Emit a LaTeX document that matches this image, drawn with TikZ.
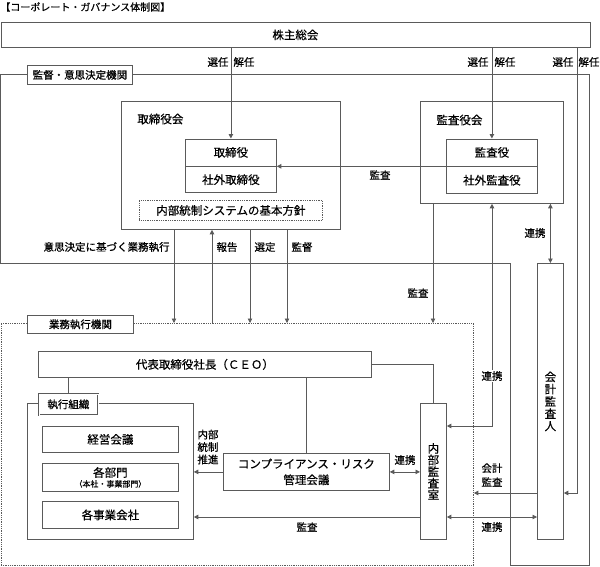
\documentclass[tikz,border=0pt]{standalone}
\usepackage{fontspec}
\setmainfont{Noto Sans CJK JP}[FakeBold=0.6]
\usetikzlibrary{arrows.meta,positioning}
\definecolor{linegray}{HTML}{5A5A5A}

\begin{document}
\begin{tikzpicture}[x=1pt,y=-1pt,>={Triangle[length=4.5pt,width=4.5pt]},line width=.8pt,draw=linegray,
  txt/.style={inner sep=0pt,font=\fontsize{10.5}{12}\selectfont},
  box/.style={draw=linegray,rectangle,inner sep=0pt,align=center,anchor=north west,font=\fontsize{11.5}{13}\selectfont},
  tagbox/.style={box,fill=white,font=\fontsize{10.5}{12}\selectfont},
  frame/.style={draw=linegray}]
  \useasboundingbox (0,0) rectangle (600,566);

  \node[txt,anchor=west,font=\fontsize{10}{12}\selectfont] (title) at (0,7) {【コーポレート・ガバナンス体制図】};
  \node[box,minimum width=589pt,minimum height=25pt] (kabunushi) at (0.5,22) {株主総会};

  % supervision / decision making
  \draw[frame] (0.5,74) -- (589.5,74) -- (589.5,565) -- (510,565) -- (510,263) -- (0.5,263) -- cycle;
  \node[tagbox,minimum width=105pt,minimum height=19pt] (kantokutag) at (27,65) {監督・意思決定機関};

  \node[box,minimum width=219pt,minimum height=128pt] (board) at (121,101) {};
  \node[box,draw=none,anchor=west] (boardlbl) at (137,119) {取締役会};
  \node[box,minimum width=91pt,minimum height=27pt] (director) at (185,138.5) {取締役};
  \node[box,minimum width=91pt,minimum height=26pt,below=0pt of director] (outdirector) {社外取締役};
  \node[box,densely dotted,minimum width=183pt,minimum height=20pt] (policy) at (139,200) {内部統制システムの基本方針};

  \node[box,minimum width=143pt,minimum height=102pt] (auditboard) at (420,101) {};
  \node[box,draw=none,anchor=west] (auditboardlbl) at (436,120) {監査役会};
  \node[box,minimum width=91pt,minimum height=27pt] (auditor) at (446,138.5) {監査役};
  \node[box,minimum width=91pt,minimum height=27pt,below=0pt of auditor] (outauditor) {社外監査役};

  \node[box,minimum width=26pt,minimum height=276pt,font=\fontsize{11.5}{12.3}\selectfont] (accountant) at (537,263) {会\\計\\監\\査\\人};

  % execution
  \node[box,densely dotted,minimum width=472.5pt,minimum height=242pt] (exec) at (0.5,323) {};
  \node[tagbox,minimum width=106pt,minimum height=18pt] (exectag) at (27,315) {業務執行機関};

  \node[box,minimum width=333pt,minimum height=26pt] (ceo) at (38,351) {代表取締役社長（ＣＥＯ）};
  \node[box,minimum width=166pt,minimum height=136pt] (org) at (27,403) {};
  \node[tagbox,double,double distance=.8pt,minimum width=59pt,minimum height=21pt] (orgtag) at (38.5,393.5) {執行組織};
  \node[box,minimum width=136pt,minimum height=26pt] (mgmt) at (42,426) {経営会議};
  \node[box,minimum width=136pt,minimum height=28pt] (dept) at (42,463) {各部門\\[-3pt]{\fontsize{8}{9}\selectfont（本社・事業部門）}};
  \node[box,minimum width=136pt,minimum height=27pt] (subsid) at (42,501) {各事業会社};
  \node[box,minimum width=166pt,minimum height=37pt,font=\fontsize{11.5}{16}\selectfont] (compliance) at (223,453) {コンプライアンス・リスク\\管理会議};
  \node[box,minimum width=26pt,minimum height=136pt,font=\fontsize{11.5}{11.6}\selectfont] (internal) at (420,403) {内\\部\\監\\査\\室};

  % appointment / dismissal
  \coordinate (accturn) at (577,493);
  \draw[->] (kabunushi.south -| director.north) -- (director.north);
  \draw[->] (kabunushi.south -| auditor.north) -- (auditor.north);
  \draw[->] (kabunushi.south -| accturn) -- (accturn) -- (accountant.east |- accturn);
  \node[txt] at (218,62) {選任};
  \node[txt] at (244,62) {解任};
  \node[txt] at (478,62) {選任};
  \node[txt] at (505,62) {解任};
  \node[txt] at (563,62) {選任};
  \node[txt] at (589,62) {解任};

  \draw[->] (auditor.south west) -- (director.south east);
  \node[txt] at (380,175) {監査};

  \foreach \x in {174,250,287}
    \draw[->] (board.south -| \x,0) -- (exec.north -| \x,0);
  \draw[->] (exec.north -| 212,0) -- (board.south -| 212,0);
  \node[txt,anchor=east] at (170,247) {意思決定に基づく業務執行};
  \node[txt] at (227,247) {報告};
  \node[txt] at (265,247) {選定};
  \node[txt] at (302,247) {監督};

  \draw[->] (auditboard.south -| 433,0) -- (exec.north -| 433,0);
  \node[txt] at (418,293) {監査};

  \coordinate (linkturn) at (492,426);
  \draw[<->] (auditboard.south -| linkturn) -- (linkturn) -- (internal.east |- linkturn);
  \node[txt,fill=white,inner sep=1.5pt] at (492,376) {連携};

  \draw[<->] (auditboard.south -| accountant.north) -- (accountant.north);
  \node[txt] at (535,233) {連携};

  % inside execution
  \draw (ceo.south -| orgtag.north) -- (orgtag.north);
  \draw (ceo.south -| compliance.north) -- (compliance.north);
  \draw (ceo.east) -- (ceo.east -| internal.north) -- (internal.north);

  \draw[->] (compliance.west) -- (compliance.west -| org.east);
  \node[txt,align=center,font=\fontsize{10.5}{12.5}\selectfont] at (208,447) {内部\\統制\\推進};
  \draw[<->] (compliance.east) -- (compliance.east -| internal.west);
  \node[txt] at (405,460) {連携};

  \coordinate (auditrow) at (0,517);
  \draw[->] (internal.west |- auditrow) -- (org.east |- auditrow);
  \node[txt] at (307,527) {監査};
  \draw[<->] (internal.east |- auditrow) -- (accountant.west |- auditrow);
  \node[txt] at (492,527) {連携};
  \draw[->] (accountant.west |- accturn) -- (exec.east |- accturn);
  \node[txt,align=center,font=\fontsize{10.5}{14}\selectfont] at (492,475) {会計\\監査};
\end{tikzpicture}
\end{document}
